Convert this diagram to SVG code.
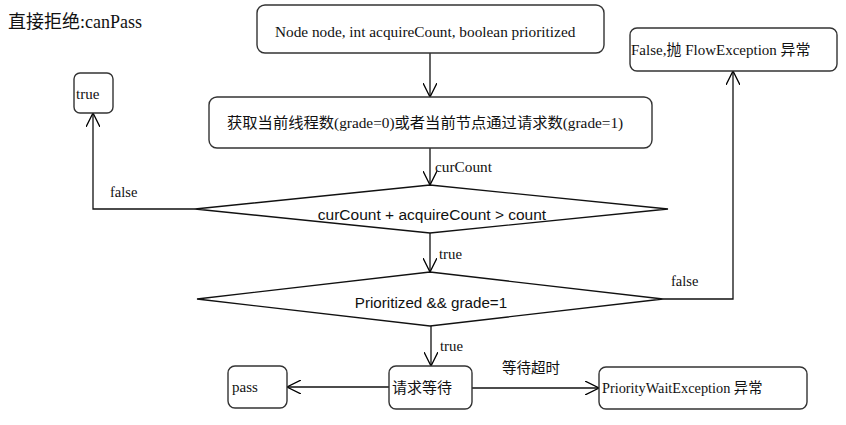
<svg xmlns="http://www.w3.org/2000/svg" width="846" height="425" viewBox="0 0 846 425">
<defs>
<marker id="arr" viewBox="0 0 14 14" refX="14" refY="7" markerWidth="14" markerHeight="14" markerUnits="userSpaceOnUse" orient="auto">
<path d="M0,0 L14,7 L0,14" fill="none" stroke="#000" stroke-width="1.3"/>
</marker>
</defs>
<style>
.box{fill:#fff;stroke:#333;stroke-width:1.4}
.dia{fill:#fff;stroke:#111;stroke-width:1.3}
.t{font-family:"Liberation Serif","Noto Sans CJK SC",serif;fill:#111}
.s{font-family:"Liberation Sans","Noto Sans CJK SC",sans-serif;fill:#111}
.ln{fill:none;stroke:#111;stroke-width:1.3;marker-end:url(#arr)}
</style>
<rect width="846" height="425" fill="#fff"/>
<text class="t" x="8" y="28" font-size="18">直接拒绝:canPass</text>
<g id="connectors">
<path class="ln" d="M430,53 L430,97"/>
<path class="ln" d="M430,148 L430,185"/>
<text class="t" x="435" y="172" font-size="15.3">curCount</text>
<path class="ln" d="M195,209 L93,209 L93,113"/>
<text class="t" x="110" y="197" font-size="14.5">false</text>
<path class="ln" d="M430,233 L430,272"/>
<text class="t" x="439" y="259" font-size="14.8">true</text>
<path class="ln" d="M663,299 L733,299 L733,71"/>
<text class="t" x="671" y="286" font-size="14.5">false</text>
<path class="ln" d="M431,326 L431,366"/>
<text class="t" x="440" y="351" font-size="14.8">true</text>
<path class="ln" d="M389,387 L287,387"/>
<path class="ln" d="M472,388 L599,388"/>
<text class="t" x="502" y="373" font-size="14.5">等待超时</text>
</g>
<g id="node-input">
<rect class="box" x="257" y="5" width="347" height="48" rx="8"/>
<text class="t" x="275" y="37" font-size="15.3">Node node, int acquireCount, boolean prioritized</text>
</g>
<g id="node-getcount">
<rect class="box" x="209" y="97" width="443" height="51" rx="8"/>
<text class="t" x="227" y="128" font-size="15.3">获取当前线程数(grade=0)或者当前节点通过请求数(grade=1)</text>
</g>
<g id="node-true">
<rect class="box" x="74" y="73" width="39" height="40" rx="6"/>
<text class="t" x="76" y="99" font-size="15">true</text>
</g>
<g id="node-check-count">
<polygon class="dia" points="195,209 430,185 668,209 430,233"/>
<text class="s" x="432" y="220" font-size="15.5" text-anchor="middle">curCount + acquireCount &gt; count</text>
</g>
<g id="node-flowexception">
<rect class="box" x="630" y="28" width="207" height="43" rx="7"/>
<text class="t" x="631" y="55" font-size="15">False,抛 FlowException 异常</text>
</g>
<g id="node-check-prioritized">
<polygon class="dia" points="197,299 430,272 663,299 430,326"/>
<text class="s" x="431" y="308" font-size="15.2" text-anchor="middle">Prioritized &amp;&amp; grade=1</text>
</g>
<g id="node-wait">
<rect class="box" x="389" y="366" width="83" height="43" rx="7"/>
<text class="t" x="392" y="393" font-size="15">请求等待</text>
</g>
<g id="node-pass">
<rect class="box" x="228" y="366" width="59" height="42" rx="7"/>
<text class="t" x="232" y="392" font-size="15">pass</text>
</g>
<g id="node-prioritywait">
<rect class="box" x="599" y="367" width="208" height="42" rx="7"/>
<text class="t" x="602" y="393" font-size="14.3">PriorityWaitException 异常</text>
</g>
</svg>
